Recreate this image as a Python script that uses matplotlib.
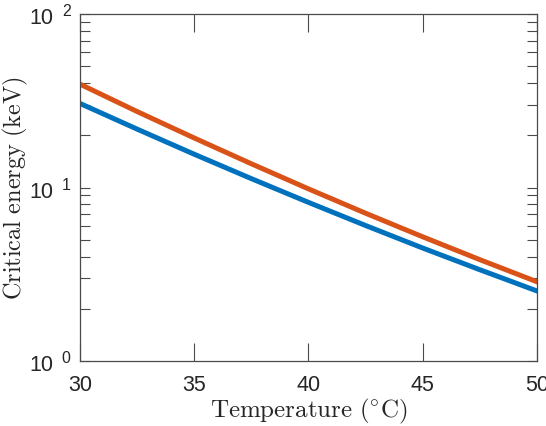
import matplotlib
matplotlib.use('Agg')
import matplotlib.pyplot as plt
from matplotlib.ticker import FixedLocator, NullFormatter

plt.rcParams['font.family'] = ['Liberation Sans', 'DejaVu Sans']
plt.rcParams['mathtext.fontset'] = 'cm'

# Data
temperature = [30, 32.5, 35, 37.5, 40, 42.5, 45, 47.5, 50]
energy_blue = [30.5, 21.7, 15.55, 11.25, 8.21, 6.04, 4.48, 3.36, 2.535]
energy_orange = [39.4, 27.4, 19.29, 13.70, 9.82, 7.11, 5.20, 3.84, 2.864]

x_ticks = [30, 35, 40, 45, 50]
y_ticks = [1, 10, 100]
y_exponents = ['0', '1', '2']

fig = plt.figure(figsize=(5.46, 4.27), dpi=100)
ax = fig.add_axes([0.1465, 0.152, 0.837, 0.813])

ax.plot(temperature, energy_blue, color='#0072BD', linewidth=3.6)
ax.plot(temperature, energy_orange, color='#D95319', linewidth=3.6)

ax.set_yscale('log')
ax.set_xlim(30, 50)
ax.set_ylim(1, 100)
ax.set_xticks(x_ticks)
ax.yaxis.set_major_locator(FixedLocator(y_ticks))
ax.yaxis.set_major_formatter(NullFormatter())
ax.grid(False)

# MATLAB-style "10 ^n" tick labels: base and exponent as separate texts
txt_color = '#262626'
for v, e in zip(y_ticks, y_exponents):
    ax.annotate('10', xy=(0, v), xycoords=('axes fraction', 'data'),
                xytext=(-19.5, -2.6), textcoords='offset points',
                ha='right', va='center', fontsize=15.5, color=txt_color)
    ax.annotate(e, xy=(0, v), xycoords=('axes fraction', 'data'),
                xytext=(-6.7, 2.4), textcoords='offset points',
                ha='right', va='center', fontsize=11.5, color=txt_color)

edge = '#4a4a4a'
for sp in ax.spines.values():
    sp.set_color(edge)
    sp.set_linewidth(0.9)

ax.tick_params(axis='both', which='both', direction='in', top=True, right=True,
               color=edge, width=0.8, labelcolor=txt_color)
ax.tick_params(axis='x', which='major', length=13, pad=9, labelsize=15.5)
ax.tick_params(axis='y', which='major', length=7.5)
ax.tick_params(axis='y', which='minor', length=7.5)

ax.set_xlabel(r'$\mathrm{Temperature\ (^{\circ}C)}$', fontsize=18, color=txt_color, labelpad=1)
ax.set_ylabel(r'$\mathrm{Critical\ energy\ (keV)}$', fontsize=17.5, color=txt_color)
ax.yaxis.set_label_coords(-0.11, 0.5)

fig.savefig('out.png', dpi=100)
